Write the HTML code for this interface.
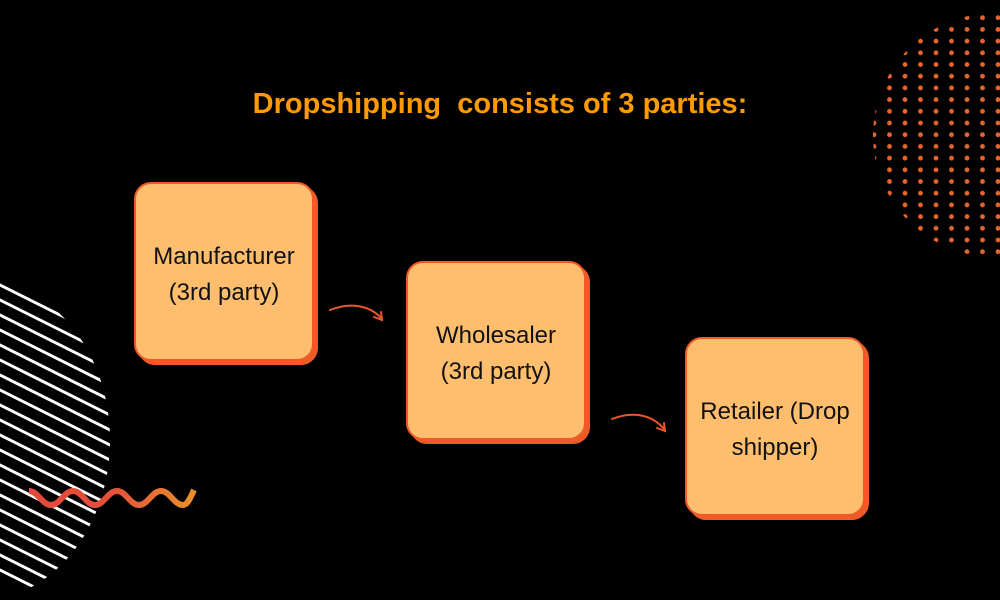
<!DOCTYPE html>
<html><head><meta charset="utf-8"><style>
html,body{margin:0;padding:0;background:#000;overflow:hidden;width:1000px;height:600px;}
#c{position:relative;width:1000px;height:600px;overflow:hidden;background:#000;font-family:"Liberation Sans",sans-serif;}
.t{position:absolute;left:0;width:1000px;top:88px;text-align:center;color:#FF9A00;font-weight:bold;font-size:29px;white-space:pre;}
.b{position:absolute;box-sizing:border-box;padding-top:6px;width:180px;height:179px;background:#FFBD6E;border:2px solid #F05A28;border-radius:17px;box-shadow:4px 4px 0 #F05A28;display:flex;align-items:center;justify-content:center;text-align:center;font-size:24px;line-height:36px;color:#111;}
</style></head><body><div id="c">
<svg width="1000" height="600" style="position:absolute;left:0;top:0">
<defs>
<pattern id="dots" x="0" y="2" width="15.5" height="11.7" patternUnits="userSpaceOnUse"><circle cx="6" cy="4" r="2.4" fill="#E8652A"/></pattern>
<clipPath id="dc"><circle cx="995" cy="135" r="122"/></clipPath>
<clipPath id="sc"><ellipse cx="-20" cy="440" rx="130" ry="160"/></clipPath>
<linearGradient id="wg" x1="0" x2="1"><stop offset="0" stop-color="#E5483C"/><stop offset="0.5" stop-color="#E5503A"/><stop offset="1" stop-color="#E8902A"/></linearGradient>
</defs>
<rect x="860" y="0" width="140" height="280" fill="url(#dots)" clip-path="url(#dc)"/>
<g clip-path="url(#sc)" stroke="#fff" stroke-width="3">
<line x1="-20" y1="260" x2="200" y2="370"/><line x1="-20" y1="275" x2="200" y2="385"/><line x1="-20" y1="290" x2="200" y2="400"/><line x1="-20" y1="305" x2="200" y2="415"/><line x1="-20" y1="320" x2="200" y2="430"/><line x1="-20" y1="335" x2="200" y2="445"/><line x1="-20" y1="350" x2="200" y2="460"/><line x1="-20" y1="365" x2="200" y2="475"/><line x1="-20" y1="380" x2="200" y2="490"/><line x1="-20" y1="395" x2="200" y2="505"/><line x1="-20" y1="410" x2="200" y2="520"/><line x1="-20" y1="425" x2="200" y2="535"/><line x1="-20" y1="440" x2="200" y2="550"/><line x1="-20" y1="455" x2="200" y2="565"/><line x1="-20" y1="470" x2="200" y2="580"/><line x1="-20" y1="485" x2="200" y2="595"/><line x1="-20" y1="500" x2="200" y2="610"/><line x1="-20" y1="515" x2="200" y2="625"/><line x1="-20" y1="530" x2="200" y2="640"/><line x1="-20" y1="545" x2="200" y2="655"/><line x1="-20" y1="560" x2="200" y2="670"/>
</g>
<path d="M29 491 C38 491 42 505 51 505 C60 505 64 491 73 491 C82 491 86 505 95 505 C104 505 108 491 117 491 C126 491 130 505 139 505 C148 505 152 491 161 491 C170 491 174 505 183 505 C188 505 191 496 194 490" fill="none" stroke="url(#wg)" stroke-width="6"/>
<g fill="none" stroke="#E8582A" stroke-width="2" stroke-linecap="round">
<path d="M330 310 C350 302 370 305 382 319"/><path d="M374 317 L382 320 L381 312"/>
<path d="M612 419 C632 411 652 414 665 430"/><path d="M657 428 L665 431 L664 423"/>
</g>
</svg>
<div class="t">Dropshipping  consists of 3 parties:</div>
<div class="b" style="left:134px;top:182px">Manufacturer<br>(3rd party)</div>
<div class="b" style="left:406px;top:261px">Wholesaler<br>(3rd party)</div>
<div class="b" style="left:685px;top:337px">Retailer (Drop<br>shipper)</div>
</div></body></html>
